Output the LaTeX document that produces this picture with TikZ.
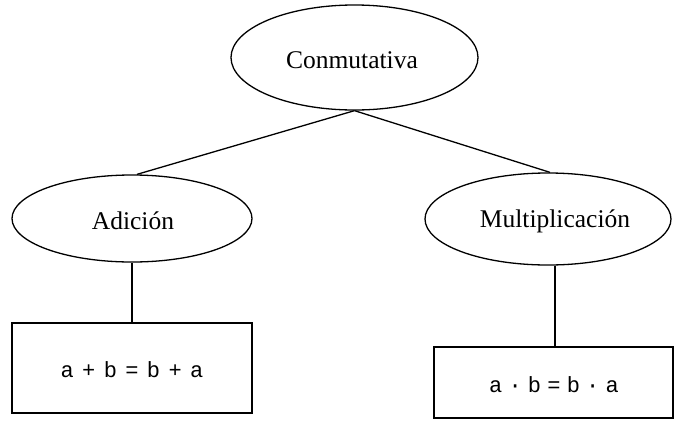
\documentclass[tikz,border=0pt]{standalone}
\usepackage{fontspec}
\setmainfont{Liberation Serif}
\newfontfamily\eqfont{Liberation Mono}
\usetikzlibrary{shapes.geometric}

\tikzset{
  oval/.style={draw=black, line width=1.3pt, ellipse, inner sep=0pt},
  eqbox/.style={draw=black, line width=1.3pt, rectangle, inner sep=0pt},
  lbl/.style={font=\fontsize{25.5}{30}\selectfont, inner sep=0pt},
  eqlbl/.style={font=\eqfont\fontsize{22}{26}\selectfont, inner sep=0pt},
  link/.style={draw=black, line width=1.3pt}
}

% formula tokens separated by a fixed gap
\newcommand{\gapA}{\kern8.4pt}
\newcommand{\gapB}{\kern6.2pt}

\begin{document}
\begin{tikzpicture}[x=1pt, y=-1pt]
  \useasboundingbox (0,0) rectangle (675,421);

  % property node
  \node[oval, minimum width=247pt, minimum height=105pt] (conm) at (354.5,57.5) {};
  \node[lbl] (conmtext) at (352,60) {Conmutativa};

  % the two operations
  \node[oval, minimum width=240pt, minimum height=87pt] (adic) at (132,218.5) {};
  \node[lbl] (adictext) at (133,221) {Adición};
  \node[oval, minimum width=246pt, minimum height=92pt] (mult) at (548,219) {};
  \node[lbl] (multtext) at (555,221) {Multiplicación};

  % formulas
  \node[eqbox, minimum width=240pt, minimum height=90pt] (sum) at (132,368) {};
  \node[eqlbl] (sumtext) at (132,370)
    {a\gapA+\gapA b\gapA=\gapA b\gapA+\gapA a};
  \node[eqbox, minimum width=239pt, minimum height=71pt] (prod) at (553.5,382.5) {};
  \node[eqlbl] (prodtext) at (554,384.5)
    {a\gapB·\gapB b\gapB=\gapB b\gapB·\gapB a};

  % connectors
  \draw[link] (conm.south) -- ([xshift=5pt]adic.north);
  \draw[link] (conm.south) -- ([xshift=2pt]mult.north);
  \draw[link] (sum.north) -- (sum.north |- adic.south);
  \draw[link] ([xshift=1.5pt]prod.north) -- ([xshift=1.5pt]prod.north |- mult.south);
\end{tikzpicture}
\end{document}
